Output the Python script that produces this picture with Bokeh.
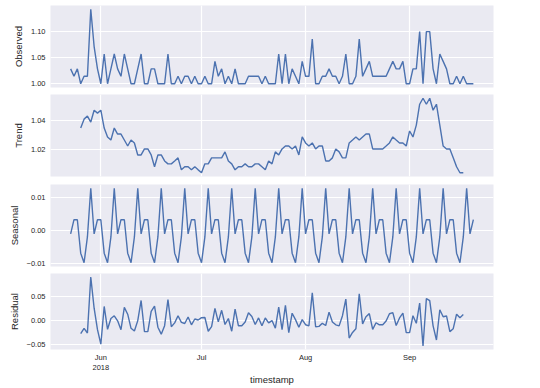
import numpy as np
import pandas as pd
from bokeh.plotting import figure
from bokeh.layouts import column
from bokeh.models import Range1d, FixedTicker, LinearAxis
from bokeh.embed import file_html
from bokeh.resources import INLINE

# ---------------- data ----------------
start_date = "2018-05-23"

observed = [
    1.0286, 1.0143, 1.0286, 1.0000, 1.0143, 1.0143, 1.1429, 1.0714, 1.0286, 1.0000,
    1.0571, 1.0000, 1.0286, 1.0571, 1.0286, 1.0143, 1.0571, 1.0286, 1.0000, 1.0000,
    1.0286, 1.0571, 1.0000, 1.0000, 1.0286, 1.0286, 1.0000, 1.0000, 1.0000, 1.0571,
    1.0000, 1.0000, 1.0143, 1.0000, 1.0143, 1.0143, 1.0000, 1.0143, 1.0000, 1.0000,
    1.0143, 1.0000, 1.0000, 1.0429, 1.0143, 1.0286, 1.0000, 1.0143, 1.0000, 1.0286,
    1.0000, 1.0000, 1.0000, 1.0143, 1.0143, 1.0143, 1.0143, 1.0000, 1.0143, 1.0000,
    1.0000, 1.0000, 1.0571, 1.0000, 1.0571, 1.0000, 1.0286, 1.0143, 1.0000, 1.0429,
    1.0143, 1.0143, 1.0857, 1.0000, 1.0000, 1.0143, 1.0143, 1.0286, 1.0143, 1.0143,
    1.0000, 1.0143, 1.0571, 1.0000, 1.0000, 1.0143, 1.0857, 1.0143, 1.0286, 1.0429,
    1.0143, 1.0143, 1.0143, 1.0143, 1.0143, 1.0286, 1.0429, 1.0286, 1.0286, 1.0429,
    1.0000, 1.0000, 1.0286, 1.0286, 1.1000, 1.0000, 1.1000, 1.1000, 1.0286, 1.0000,
    1.0571, 1.0429, 1.0286, 1.0000, 1.0000, 1.0143, 1.0000, 1.0143, 1.0000, 1.0000,
    1.0000,
]

# trend and residual start 3 days after the first observation
component_offset = 3

trend = [
    1.0347, 1.0408, 1.0429, 1.0388, 1.0469, 1.0449, 1.0469, 1.0347, 1.0286, 1.0265,
    1.0347, 1.0306, 1.0306, 1.0265, 1.0224, 1.0265, 1.0245, 1.0163, 1.0163, 1.0204,
    1.0204, 1.0163, 1.0082, 1.0163, 1.0163, 1.0122, 1.0102, 1.0102, 1.0122, 1.0143,
    1.0061, 1.0082, 1.0082, 1.0061, 1.0082, 1.0061, 1.0041, 1.0102, 1.0102, 1.0143,
    1.0143, 1.0143, 1.0143, 1.0184, 1.0122, 1.0102, 1.0061, 1.0082, 1.0082, 1.0102,
    1.0082, 1.0082, 1.0102, 1.0102, 1.0082, 1.0061, 1.0122, 1.0102, 1.0184, 1.0163,
    1.0204, 1.0224, 1.0224, 1.0204, 1.0224, 1.0163, 1.0286, 1.0245, 1.0224, 1.0245,
    1.0204, 1.0224, 1.0224, 1.0122, 1.0122, 1.0143, 1.0204, 1.0184, 1.0143, 1.0143,
    1.0245, 1.0265, 1.0286, 1.0265, 1.0286, 1.0306, 1.0306, 1.0204, 1.0204, 1.0204,
    1.0204, 1.0224, 1.0245, 1.0286, 1.0265, 1.0245, 1.0245, 1.0224, 1.0327, 1.0286,
    1.0367, 1.0510, 1.0551, 1.0510, 1.0551, 1.0469, 1.0510, 1.0367, 1.0224, 1.0204,
    1.0204, 1.0143, 1.0082, 1.0041, 1.0041,
]

seasonal = [
    -0.0010, 0.0033, 0.0033, -0.0068, -0.0097, -0.0019, 0.0128,
    -0.0010, 0.0033, 0.0033, -0.0068, -0.0097, -0.0019, 0.0128,
    -0.0010, 0.0033, 0.0033, -0.0068, -0.0097, -0.0019, 0.0128,
    -0.0010, 0.0033, 0.0033, -0.0068, -0.0097, -0.0019, 0.0128,
    -0.0010, 0.0033, 0.0033, -0.0068, -0.0097, -0.0019, 0.0128,
    -0.0010, 0.0033, 0.0033, -0.0068, -0.0097, -0.0019, 0.0128,
    -0.0010, 0.0033, 0.0033, -0.0068, -0.0097, -0.0019, 0.0128,
    -0.0010, 0.0033, 0.0033, -0.0068, -0.0097, -0.0019, 0.0128,
    -0.0010, 0.0033, 0.0033, -0.0068, -0.0097, -0.0019, 0.0128,
    -0.0010, 0.0033, 0.0033, -0.0068, -0.0097, -0.0019, 0.0128,
    -0.0010, 0.0033, 0.0033, -0.0068, -0.0097, -0.0019, 0.0128,
    -0.0010, 0.0033, 0.0033, -0.0068, -0.0097, -0.0019, 0.0128,
    -0.0010, 0.0033, 0.0033, -0.0068, -0.0097, -0.0019, 0.0128,
    -0.0010, 0.0033, 0.0033, -0.0068, -0.0097, -0.0019, 0.0128,
    -0.0010, 0.0033, 0.0033, -0.0068, -0.0097, -0.0019, 0.0128,
    -0.0010, 0.0033, 0.0033, -0.0068, -0.0097, -0.0019, 0.0128,
    -0.0010, 0.0033, 0.0033, -0.0068, -0.0097, -0.0019, 0.0128,
    -0.0010, 0.0033,
]

residual = [
    -0.0279, -0.0168, -0.0267, 0.0913, 0.0255, -0.0196, -0.0502, 0.0292, -0.0189, 0.0039,
    0.0096, -0.0010, -0.0196, 0.0273, 0.0129, -0.0168, -0.0226, -0.0006, 0.0418, -0.0237,
    -0.0237, 0.0190, 0.0301, -0.0144, -0.0291, -0.0112, 0.0436, -0.0135, -0.0054, 0.0097,
    -0.0042, -0.0067, 0.0071, -0.0094, 0.0028, 0.0007, 0.0056, 0.0060, -0.0230, -0.0133,
    0.0253, -0.0033, 0.0211, -0.0087, 0.0039, -0.0230, 0.0234, -0.0115, -0.0115, -0.0034,
    0.0158, 0.0080, -0.0087, 0.0051, -0.0115, 0.0049, -0.0054, -0.0005, -0.0165, 0.0280,
    -0.0194, 0.0314, -0.0257, 0.0150, 0.0015, -0.0144, 0.0015, -0.0092, -0.0115, 0.0579,
    -0.0136, -0.0127, -0.0063, -0.0108, 0.0173, -0.0033, -0.0094, -0.0116, 0.0097, 0.0448,
    -0.0373, -0.0255, -0.0176, 0.0559, -0.0075, 0.0077, 0.0141, -0.0189, -0.0051, -0.0094,
    -0.0094, -0.0014, 0.0138, 0.0162, -0.0108, 0.0051, 0.0151, -0.0257, -0.0259, 0.0097,
    -0.0063, 0.0362, -0.0541, 0.0457, 0.0416, -0.0116, -0.0413, 0.0223, 0.0076, 0.0092,
    -0.0237, -0.0176, 0.0129, 0.0056, 0.0121,
]

month_ticks = ["2018-06-01", "2018-07-01", "2018-08-01", "2018-09-01"]
month_labels = ["Jun", "Jul", "Aug", "Sep"]
year_label = "2018"

panel_names = ["Observed", "Trend", "Seasonal", "Residual"]
y_tick_values = [
    [1.00, 1.05, 1.10],
    [1.02, 1.04],
    [-0.01, 0.00, 0.01],
    [-0.05, 0.00, 0.05],
]
y_tick_labels = [
    ["1.00", "1.05", "1.10"],
    ["1.02", "1.04"],
    ["\u22120.01", "0.00", "0.01"],
    ["\u22120.05", "0.00", "0.05"],
]
x_label = "timestamp"

# ---------------- build ----------------
def to_ms(idx):
    return idx.values.astype("datetime64[ms]").astype("int64").astype(float)

dates = pd.date_range(start_date, periods=len(observed), freq="D")
x_all = to_ms(dates)
x_comp = x_all[component_offset:component_offset + len(trend)]
tick_ms = [int(v) for v in to_ms(pd.to_datetime(month_ticks))]

span = x_all[-1] - x_all[0]
x_range = Range1d(x_all[0] - 0.05 * span, x_all[-1] + 0.05 * span)

series = [
    (x_all, observed),
    (x_comp, trend),
    (x_all, seasonal),
    (x_comp, residual),
]

FONT = "Liberation Sans"
TEXT = "#262626"
BG = "#EAEAF2"
LINE = "#4C72B0"


def style_axis(ax):
    ax.axis_line_color = None
    ax.major_tick_line_color = None
    ax.minor_tick_line_color = None
    ax.major_tick_out = 0
    ax.major_tick_in = 0
    ax.minor_tick_out = 0
    ax.minor_tick_in = 0
    ax.major_label_text_font = FONT
    ax.major_label_text_font_size = "7.5px"
    ax.major_label_text_color = TEXT
    ax.axis_label_text_font = FONT
    ax.axis_label_text_font_size = "9.5px"
    ax.axis_label_text_font_style = "normal"
    ax.axis_label_text_color = TEXT


frame_h = 82
tops = [5, 0, 0, 0]
bottoms = [7, 8, 7, 32]
figs = []
for k, (name, (xs, ys)) in enumerate(zip(panel_names, series)):
    last = k == len(panel_names) - 1
    lo, hi = min(ys), max(ys)
    pad = 0.05 * (hi - lo)
    h = tops[k] + frame_h + bottoms[k]
    p = figure(width=498, height=h, x_range=x_range,
               y_range=Range1d(lo - pad, hi + pad),
               output_backend="svg", toolbar_location=None, title=None,
               min_border_left=50, min_border_right=5,
               min_border_top=tops[k], min_border_bottom=bottoms[k])
    p.background_fill_color = BG
    p.border_fill_color = "white"
    p.outline_line_color = None

    p.line(xs, ys, line_color=LINE, line_width=1.4)

    p.xgrid.ticker = FixedTicker(ticks=tick_ms)
    p.ygrid.ticker = FixedTicker(ticks=y_tick_values[k])
    for g in (p.xgrid, p.ygrid):
        g.grid_line_color = "white"
        g.grid_line_width = 1.2

    ya = p.yaxis[0]
    ya.ticker = FixedTicker(ticks=y_tick_values[k])
    ya.major_label_overrides = {v: s for v, s in zip(y_tick_values[k], y_tick_labels[k])}
    ya.axis_label = name
    style_axis(ya)
    ya.major_label_standoff = 5
    ya.axis_label_standoff = 4

    xa = p.xaxis[0]
    xa.ticker = FixedTicker(ticks=tick_ms)
    xa.major_label_overrides = {v: s for v, s in zip(tick_ms, month_labels)}
    style_axis(xa)
    xa.major_label_standoff = 3
    if last:
        # second row of tick text: the year under the first month, plus axis title
        xa2 = LinearAxis(ticker=FixedTicker(ticks=[tick_ms[0]]),
                         major_label_overrides={tick_ms[0]: year_label},
                         axis_label=x_label)
        style_axis(xa2)
        xa2.major_label_standoff = 0
        xa2.axis_label_standoff = 1
        p.add_layout(xa2, "below")
    else:
        xa.visible = False
    figs.append(p)

layout = column(*figs)

open("out.html", "w").write(file_html(layout, INLINE))
